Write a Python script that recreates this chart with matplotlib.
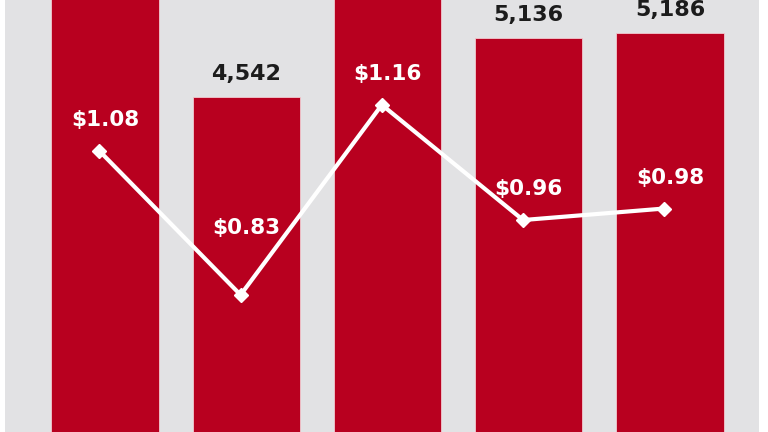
import matplotlib
matplotlib.use("Agg")
import matplotlib.pyplot as plt
import numpy as np

# data (bars 1 and 3 run past the top edge, so estimated)
counts = [5650, 4542, 5800, 5136, 5186]
count_labels = ["5,650", "4,542", "5,800", "5,136", "5,186"]
eps = [1.08, 0.83, 1.16, 0.96, 0.98]
eps_labels = ["$1.08", "$0.83", "$1.16", "$0.96", "$0.98"]
eps_offsets = [22, 48, 22, 22, 22]   # label distance above marker, points

RED = "#B8001F"
BG = "#E2E2E4"

def main():
	fig = plt.figure(figsize=(7.68, 4.32), dpi=100)
	fig.patch.set_facecolor("white")
	ax = fig.add_axes([5 / 768, 0, 754 / 768, 1])
	ax.set_facecolor(BG)
	x = np.arange(len(counts))
	bars = ax.bar(x, counts, width=0.76, color=RED, edgecolor="#f2c9cf", linewidth=0.6)
	ax.set_xlim(-0.708, 4.63)
	ax.set_ylim(1168, 5519)
	for b, lab in zip(bars, count_labels):
		ax.annotate(lab, (b.get_x() + b.get_width() / 2, b.get_height()),
			xytext=(0, 16.5), textcoords="offset points", ha="center", va="center",
			fontsize=16, fontweight="bold", color="#1c1c1c", family="DejaVu Sans")

	ax2 = ax.twinx()
	ax2.set_ylim(0.592, 1.342)
	xl = x - 0.04
	ax2.plot(xl, eps, color="white", lw=3, marker="D", ms=7.5,
		markerfacecolor="white", markeredgecolor="white", solid_capstyle="round")
	for xi, v, lab, off in zip(x, eps, eps_labels, eps_offsets):
		ax2.annotate(lab, (xi, v), xytext=(0, off), textcoords="offset points",
			ha="center", va="center", fontsize=15.5, fontweight="bold",
			color="white", family="DejaVu Sans")

	for a in (ax, ax2):
		a.set_xticks([])
		a.set_yticks([])
		for s in a.spines.values():
			s.set_visible(False)

	fig.savefig("out.png", dpi=100)

if __name__ == "__main__":
	main()
